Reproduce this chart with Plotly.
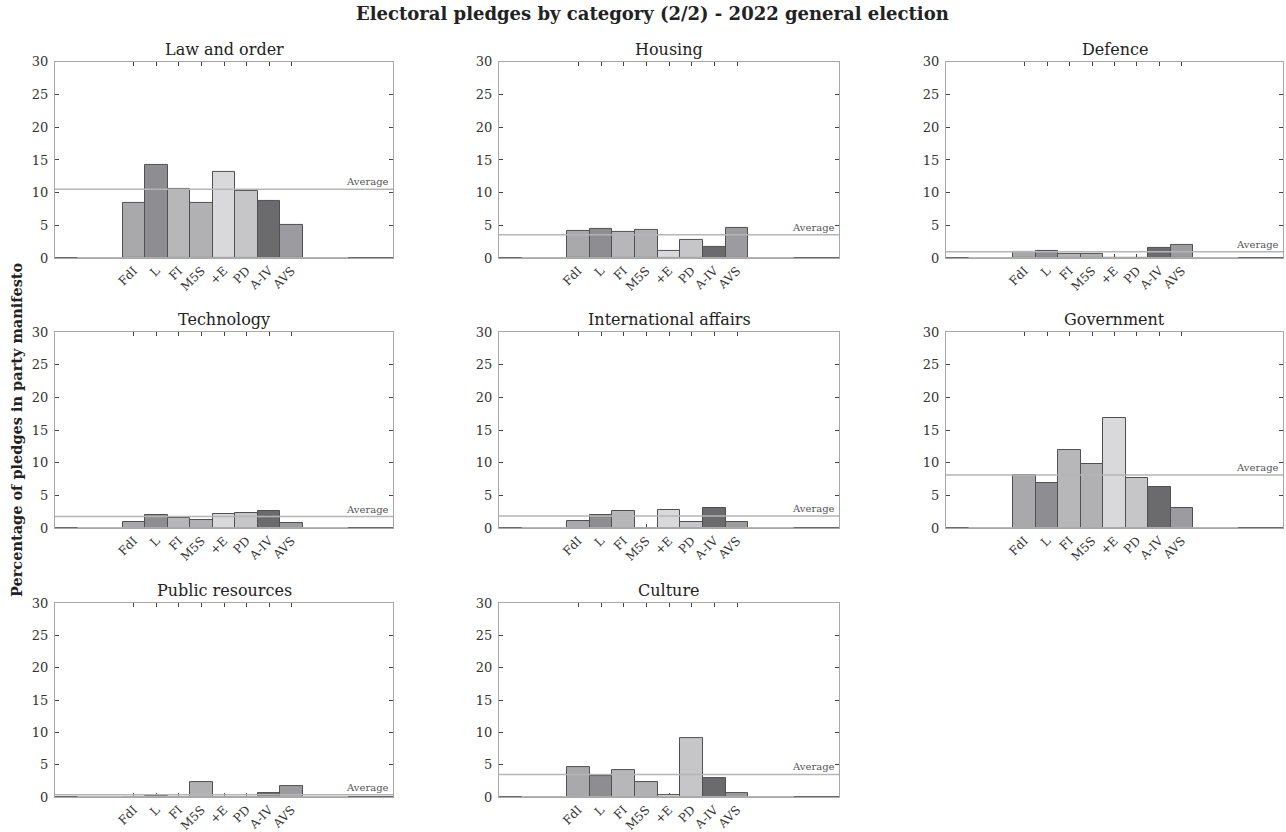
import plotly.graph_objects as go

# ---------------- data ----------------
parties = ["FdI", "L", "FI", "M5S", "+E", "PD", "A-IV", "AVS"]
party_colors = ["#a9a9ac", "#8e8e92", "#b7b7ba", "#b1b1b4", "#d9d9db", "#c6c6c9", "#6b6b6e", "#9c9ca0"]

categories = ["Law and order", "Housing", "Defence",
              "Technology", "International affairs", "Government",
              "Public resources", "Culture"]

law_and_order = [8.5, 14.2, 10.5, 8.5, 13.1, 10.2, 8.7, 5.0]
housing = [4.2, 4.5, 4.0, 4.3, 1.1, 2.8, 1.7, 4.6]
defence = [1.0, 1.15, 0.65, 0.65, 0.0, 0.0, 1.6, 2.0]
technology = [1.0, 2.0, 1.6, 1.3, 2.2, 2.3, 2.65, 0.75]
international_affairs = [1.15, 2.0, 2.6, 0.0, 2.75, 1.0, 3.0, 1.0]
government = [8.1, 6.9, 11.9, 9.8, 16.9, 7.6, 6.3, 3.05]
public_resources = [0.0, 0.15, 0.0, 2.4, 0.0, 0.0, 0.55, 1.75]
culture = [4.65, 3.3, 4.2, 2.4, 0.25, 9.2, 2.95, 0.65]

series = [law_and_order, housing, defence, technology,
          international_affairs, government, public_resources, culture]
averages = [10.5, 3.55, 0.95, 1.75, 1.85, 8.1, 0.35, 3.5]

y_ticks = [0, 5, 10, 15, 20, 25, 30]

# ---------------- layout constants ----------------
W, H = 1286, 845
Y_SCALE, Y_SHIFT = 0.982, 7.08   # empirical vertical mapping of the screenshot
col_px = [(55, 393), (499, 839), (946, 1283)]   # target pixel coords
row_px = [(62, 258), (332, 528), (603, 797)]
LEFT_PAD, RIGHT_PAD, LIGHT_PAD = 3, 4, 2
SERIF = "DejaVu Serif"

positions = list(range(1, len(parties) + 1))
bar_lo = positions[0] - 0.5
bar_hi = positions[-1] + 0.5
x_range = [bar_lo - LEFT_PAD, bar_hi + RIGHT_PAD]


def px_x(p):
    return p / W


def px_y(p):
    page = (p - Y_SHIFT) / Y_SCALE
    return 1 - page / H


fig = go.Figure()
annotations = []

for i, (cat, vals, avg) in enumerate(zip(categories, series, averages)):
    r, c = divmod(i, 3)
    n = "" if i == 0 else str(i + 1)
    xa, ya = "x" + n, "y" + n

    fig.add_trace(go.Scatter(x=x_range, y=[0, 0], mode="lines",
                             line=dict(color="#3a3a3a", width=1.5),
                             xaxis=xa, yaxis=ya, showlegend=False, hoverinfo="skip"))
    fig.add_trace(go.Scatter(x=[bar_lo - LIGHT_PAD, bar_hi + LIGHT_PAD], y=[0, 0], mode="lines",
                             line=dict(color="#cfcfcf", width=1.5),
                             xaxis=xa, yaxis=ya, showlegend=False, hoverinfo="skip"))
    fig.add_trace(go.Bar(x=positions, y=vals, width=1,
                         marker=dict(color=party_colors,
                                     line=dict(color="#505050", width=1)),
                         xaxis=xa, yaxis=ya, showlegend=False))
    fig.add_trace(go.Scatter(x=x_range, y=[avg, avg], mode="lines",
                             line=dict(color="#b5b5b5", width=1.5),
                             xaxis=xa, yaxis=ya, showlegend=False, hoverinfo="skip"))

    x0, x1 = col_px[c]
    y0, y1 = row_px[r]
    fig.layout["xaxis" + n] = dict(
        domain=[px_x(x0), px_x(x1)], anchor=ya, range=x_range,
        tickmode="array", tickvals=positions, ticktext=parties, tickangle=-45,
        ticks="inside", ticklen=4, tickcolor="#444", mirror="allticks",
        showline=True, linecolor="#a8a8a8", linewidth=1, showgrid=False, zeroline=False,
        tickfont=dict(family=SERIF, size=12, color="#333"), layer="below traces",
        fixedrange=True)
    fig.layout["yaxis" + n] = dict(
        domain=[px_y(y1), px_y(y0)], anchor=xa, range=[0, 30],
        tickmode="array", tickvals=y_ticks,
        ticks="inside", ticklen=4, tickcolor="#444", mirror="allticks",
        showline=True, linecolor="#a8a8a8", linewidth=1, showgrid=False, zeroline=False,
        tickfont=dict(family=SERIF, size=13, color="#333"), layer="below traces",
        ticklabelstandoff=3, fixedrange=True)

    annotations.append(dict(text=cat, xref="paper", yref="paper",
                            x=px_x((x0 + x1) / 2), y=px_y(y0 - 1),
                            xanchor="center", yanchor="bottom", showarrow=False,
                            font=dict(family=SERIF, size=16, color="#222")))
    annotations.append(dict(text="Average", xref=xa + " domain", yref=ya,
                            x=0.995, y=avg, xanchor="right", yanchor="bottom",
                            showarrow=False,
                            font=dict(family=SERIF, size=10, color="#555")))

annotations.append(dict(text="<b>Electoral pledges by category (2/2) - 2022 general election</b>",
                        xref="paper", yref="paper", x=px_x(652), y=px_y(14),
                        xanchor="center", yanchor="middle", showarrow=False,
                        font=dict(family=SERIF, size=18, color="#222")))
annotations.append(dict(text="<b>Percentage of pledges in party manifesto</b>",
                        xref="paper", yref="paper", x=px_x(16), y=px_y(430),
                        xanchor="center", yanchor="middle", textangle=-90, showarrow=False,
                        font=dict(family=SERIF, size=14.5, color="#222")))

fig.update_layout(width=W, height=H, margin=dict(l=0, r=0, t=0, b=0),
                  paper_bgcolor="white", plot_bgcolor="white",
                  bargap=0, annotations=annotations, showlegend=False)

fig.write_html("out.html", config={"displayModeBar": False},
               post_script="document.body.style.margin='0';document.body.style.overflow='hidden';")
